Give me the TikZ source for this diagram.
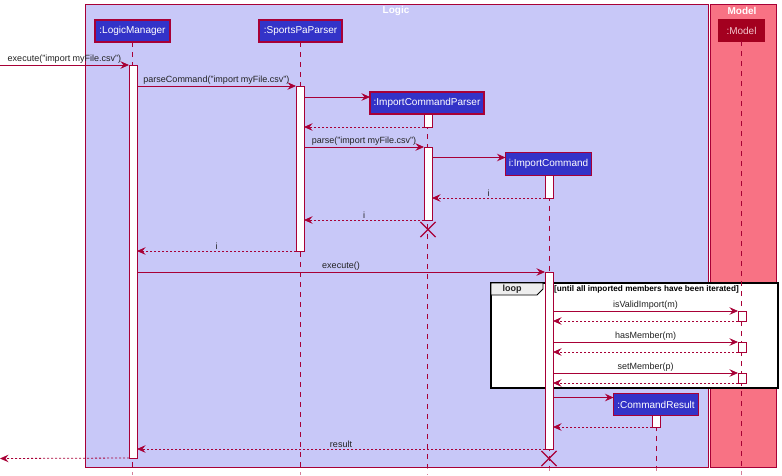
\documentclass[tikz,border=0pt]{standalone}
\usepackage{fontspec}
\setmainfont{Liberation Sans}
\usetikzlibrary{arrows.meta,calc,shapes.misc}
\definecolor{bordc}{HTML}{A80036}
\definecolor{partc}{HTML}{3333C8}
\definecolor{logicbg}{HTML}{C8C8F8}
\definecolor{modelbg}{HTML}{F87284}
\definecolor{modelpart}{HTML}{A3001F}
\definecolor{modeltxt}{HTML}{F4C4CC}
\definecolor{txtc}{HTML}{222222}
\definecolor{tabc}{HTML}{EEEEEE}
\tikzset{
  part/.style={draw=bordc, fill=partc, text=white, line width=1.2pt, minimum height=22pt,
    inner sep=0pt, outer sep=0pt, font=\fontsize{10}{12}\selectfont},
  actbar/.style={draw=bordc, fill=white, line width=1pt, minimum width=8pt, inner sep=0pt, outer sep=0pt},
  life/.style={draw=bordc, line width=0.8pt, dash pattern=on 5pt off 5pt},
  msg/.style={draw=bordc, line width=0.8pt, -{Stealth[length=8.5pt,width=7.5pt,inset=3pt]}},
  ret/.style={msg, dash pattern=on 2pt off 2pt},
  lbl/.style={font=\fontsize{9}{10}\selectfont, text=txtc, inner sep=1.5pt, above},
  grouptitle/.style={font=\bfseries\fontsize{10}{12}\selectfont, text=white, inner sep=0pt},
  destroyx/.style={cross out, draw=bordc, line width=1.2pt, minimum size=14pt, inner sep=0pt},
}
\begin{document}
\begin{tikzpicture}[x=1pt,y=-1pt]
\useasboundingbox (0,0) rectangle (782,475);
% group boxes
\draw[bordc, line width=1pt, fill=logicbg] (85,4) rectangle (708,467);
\draw[bordc, line width=1pt, fill=modelbg] (710,4) rectangle (776,467);
\node[grouptitle] (logictitle) at (396,11) {Logic};
\node[grouptitle] (modeltitle) at (742,11) {Model};
% loop frame
\draw[black, line width=1.6pt, fill=white] (491,283) rectangle (778,388);
\draw[black, line width=0.8pt, fill=tabc] (491,283) -- (543,283) -- (543,289) -- (537,295) -- (491,295) -- cycle;
\node[font=\bfseries\fontsize{9}{10}\selectfont, text=txtc, inner sep=0pt] (looplbl) at (512,289) {loop};
\node[font=\bfseries\fontsize{8.2}{9}\selectfont, text=black, inner sep=0pt, anchor=west] (guard) at (554,289) {[until all imported members have been iterated]};
% bottom reference
\coordinate (bot) at (0,475);
% participants
\node[part, minimum width=75pt] (lm) at (132.5,31) {:LogicManager};
\node[part, minimum width=83pt] (sp) at (300.5,31) {:SportsPaParser};
\node[part, minimum width=114pt] (icp) at (427,103) {:ImportCommandParser};
\node[part, minimum width=86pt, minimum height=23pt] (ic) at (548.5,164) {i:ImportCommand};
\node[part, minimum width=85pt] (cr) at (656,404.5) {:CommandResult};
\node[part, draw=modelpart, fill=modelpart, text=modeltxt, minimum width=45pt, minimum height=21pt] (mdl) at (741.5,30.5) {:Model};
% lifelines
\draw[life] (lm.south) -- (lm.south |- bot);
\draw[life] (sp.south) -- (sp.south |- bot);
\draw[life] (icp.south) -- (icp.south |- bot);
\draw[life] ([xshift=0.5pt]ic.south) -- ([xshift=0.5pt]ic.south |- bot);
\draw[life] (cr.south) -- (cr.south |- bot);
\draw[life] (mdl.south) -- (mdl.south |- bot);
\fill[white, opacity=0.5] (0,468) rectangle (782,475);
% activations
\node[actbar, minimum height=393pt] (lmA) at (133,261.5) {};
\node[actbar, minimum height=165pt] (spA) at (300,168.5) {};
\node[actbar, minimum height=13pt] (icpA1) at (428,120.5) {};
\node[actbar, minimum height=73pt] (icpA2) at (428,183.5) {};
\node[actbar, minimum height=23pt] (icA1) at (549,186.5) {};
\node[actbar, minimum height=177pt] (icA2) at (549,360.5) {};
\node[actbar, minimum height=10pt] (mA1) at (742,316) {};
\node[actbar, minimum height=10pt] (mA2) at (742,347) {};
\node[actbar, minimum height=10pt] (mA3) at (742,378) {};
\node[actbar, minimum height=12pt] (crA) at (656,421) {};
% free ends
\coordinate (start) at (0,65);
\coordinate (finish) at (0,458.5);
\coordinate (icpIn) at ($(icp.north west)+(0,5)$);
\coordinate (icIn) at ($(ic.north west)+(0,5)$);
\coordinate (crIn) at ($(cr.north west)+(0,4)$);
% messages
\draw[msg] (start) -- node[lbl] {execute("import myFile.csv")} (lmA.north west);
\draw[msg] (lmA.east |- spA.north) -- node[lbl] {parseCommand("import myFile.csv")} (spA.north west);
\draw[msg] (spA.east |- icpIn) -- (icpIn);
\draw[ret] (icpA1.south west) -- (spA.east |- icpA1.south);
\draw[msg] (spA.east |- icpA2.north) -- node[lbl] {parse("import myFile.csv")} (icpA2.north west);
\draw[msg] (icpA2.east |- icIn) -- (icIn);
\draw[ret] (icA1.south west) -- node[lbl] {i} (icpA2.east |- icA1.south);
\draw[ret] (icpA2.south west) -- node[lbl] {i} (spA.east |- icpA2.south);
\draw[ret] (spA.south west) -- node[lbl] {i} (lmA.east |- spA.south);
\draw[msg] (lmA.east |- icA2.north) -- node[lbl] {execute()} (icA2.north west);
\draw[msg] (icA2.east |- mA1.north) -- node[lbl] {isValidImport(m)} (mA1.north west);
\draw[ret] (mA1.south west) -- (icA2.east |- mA1.south);
\draw[msg] (icA2.east |- mA2.north) -- node[lbl] {hasMember(m)} (mA2.north west);
\draw[ret] (mA2.south west) -- (icA2.east |- mA2.south);
\draw[msg] (icA2.east |- mA3.north) -- node[lbl] {setMember(p)} (mA3.north west);
\draw[ret] (mA3.south west) -- (icA2.east |- mA3.south);
\draw[msg] (icA2.east |- crIn) -- (crIn);
\draw[ret] (crA.south west) -- (icA2.east |- crA.south);
\draw[ret] (icA2.south west) -- node[lbl] {result} (lmA.east |- icA2.south);
\draw[ret] (lmA.south west) -- (finish);
% destroy marks
\node[destroyx] (x1) at (428,229.5) {};
\node[destroyx] (x2) at (549,458.5) {};
\end{tikzpicture}
\end{document}
